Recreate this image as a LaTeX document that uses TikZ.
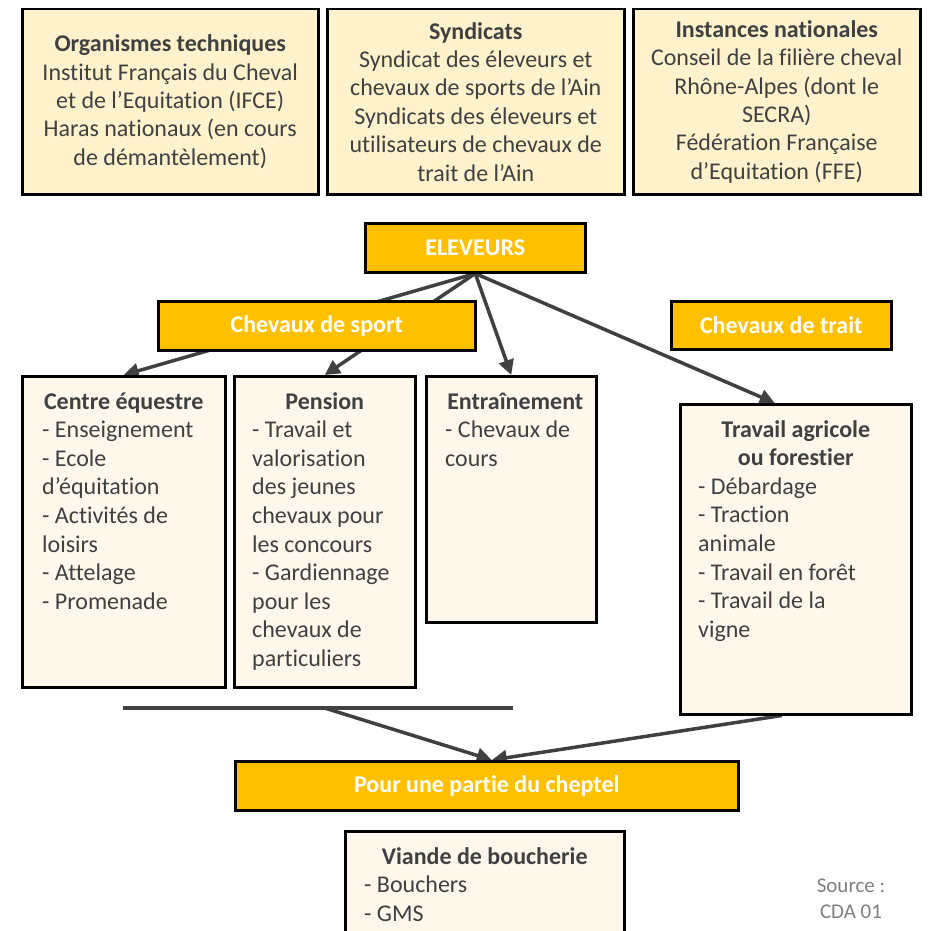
\documentclass[tikz,border=0pt]{standalone}
\usepackage{fontspec}
\setmainfont{Carlito}[Ligatures={NoCommon}]
\usetikzlibrary{arrows.meta,backgrounds,calc}
\definecolor{topfill}{HTML}{FFF2CC}
\definecolor{lowfill}{HTML}{FEF8EC}
\definecolor{orng}{HTML}{FFC000}
\definecolor{txt}{HTML}{404040}
\definecolor{connc}{HTML}{404040}
\definecolor{srcc}{HTML}{7F7F7F}
\begin{document}
\begin{tikzpicture}[x=1pt,y=-1pt,
 boxbase/.style={draw=black, line width=2.5pt, anchor=north west, inner sep=0pt},
 topbox/.style={boxbase, fill=topfill, text=txt, align=center, font=\fontsize{24}{28.4}\selectfont},
 orangebox/.style={boxbase, fill=orng, text=white, font=\fontsize{24}{28}\selectfont\bfseries},
 lowbox/.style={boxbase, fill=lowfill},
 lowtitle/.style={anchor=base, inner sep=0pt, text=txt, font=\fontsize{24}{28.6}\selectfont\bfseries},
 lowtext/.style={anchor=base west, inner sep=0pt, text=txt, font=\fontsize{24}{28.6}\selectfont},
 srcnode/.style={inner sep=0pt, text=srcc, align=center, font=\fontsize{21}{26}\selectfont},
 arr/.style={draw=connc, line width=3.5pt, -{Triangle[length=15pt,width=15pt]}},
 plainline/.style={draw=connc, line width=3.5pt},
]
\useasboundingbox (0,0) rectangle (928,931);
\clip (0,0) rectangle (928,931);

% top boxes
\node[topbox, minimum width=296, minimum height=185] (org) at (21,8)
 {\textbf{Organismes techniques}\\Institut Français du Cheval\\et de l’Equitation (IFCE)\\Haras nationaux (en cours\\de démantèlement)};
\node[topbox, minimum width=297, minimum height=185] (syn) at (326,8)
 {\textbf{Syndicats}\\Syndicat des éleveurs et\\chevaux de sports de l’Ain\\Syndicats des éleveurs et\\utilisateurs de chevaux de\\trait de l’Ain};
\node[topbox, minimum width=287, minimum height=185] (ins) at (632,8)
 {\textbf{Instances nationales}\\Conseil de la filière cheval\\Rhône-Alpes (dont le\\SECRA)\\Fédération Française\\d’Equitation (FFE)};

% orange boxes
\node[orangebox, minimum width=220, minimum height=49] (el) at (364,222) {ELEVEURS};
\node[orangebox, minimum width=317, minimum height=49] (sp) at (157,300) {Chevaux de sport};
\node[orangebox, minimum width=220, minimum height=48] (tt) at (670,300) {Chevaux de trait};
\node[orangebox, minimum width=503, minimum height=49] (pu) at (234,760) {Pour une partie du cheptel};

% lower boxes
\node[lowbox, minimum width=203, minimum height=311] (ce) at (21,375) {};
\node[lowtitle] (ceT) at ($(ce.north)+(0,34)$) {Centre équestre};
\node[lowtext] (ceI) at ($(ce.north west)+(21,62.6)$)
 {\parbox[t]{300pt}{\raggedright - Enseignement\\- Ecole\\d’équitation\\- Activités de\\loisirs\\- Attelage\\- Promenade}};

\node[lowbox, minimum width=181, minimum height=311] (pe) at (233,375) {};
\node[lowtitle] (peT) at ($(pe.north)+(0,34)$) {Pension};
\node[lowtext] (peI) at ($(pe.north west)+(19,62.6)$)
 {\parbox[t]{300pt}{\raggedright - Travail et\\valorisation\\des jeunes\\chevaux pour\\les concours\\- Gardiennage\\pour les\\chevaux de\\particuliers}};

\node[lowbox, minimum width=170, minimum height=246] (en) at (425,375) {};
\node[lowtitle] (enT) at ($(en.north)+(4,34)$) {Entraînement};
\node[lowtext] (enI) at ($(en.north west)+(20,62.6)$)
 {\parbox[t]{300pt}{\raggedright - Chevaux de\\cours}};

\node[lowbox, minimum width=231, minimum height=310] (tr) at (679,403) {};
\node[lowtitle] (trT) at ($(tr.north)+(0,34)$) {\parbox[t]{220pt}{\centering Travail agricole\\ou forestier}};
\node[lowtext] (trI) at ($(tr.north west)+(19,91.2)$)
 {\parbox[t]{300pt}{\raggedright - Débardage\\- Traction\\animale\\- Travail en forêt\\- Travail de la\\vigne}};

\node[lowbox, minimum width=279, minimum height=140] (vi) at (344,830) {};
\node[lowtitle] (viT) at ($(vi.north)+(0,34)$) {Viande de boucherie};
\node[lowtext] (viI) at ($(vi.north west)+(20,62.6)$)
 {\parbox[t]{300pt}{\raggedright - Bouchers\\- GMS}};

\node[srcnode] (src) at (851,899) {Source :\\CDA 01};

% connectors
\coordinate (hl1) at (123,708);
\coordinate (hl2) at (513,708);
\coordinate (hlm) at ($(hl1)!0.517!(hl2)$);
\begin{scope}[on background layer]
\draw[arr] (el.south) -- (ce.north);
\draw[arr] (el.south) -- (pe.north);
\draw[arr] (el.south) -- (en.north);
\draw[arr] (el.south) -- ($(tr.north west)!0.41!(tr.north east)$);
\draw[plainline] (hl1) -- (hl2);
\draw[arr] (hlm) -- ($(pu.north west)!0.51!(pu.north east)$);
\draw[arr] ($(tr.south west)!0.44!(tr.south east)$) -- ($(pu.north west)!0.51!(pu.north east)$);
\end{scope}
\end{tikzpicture}
\end{document}
